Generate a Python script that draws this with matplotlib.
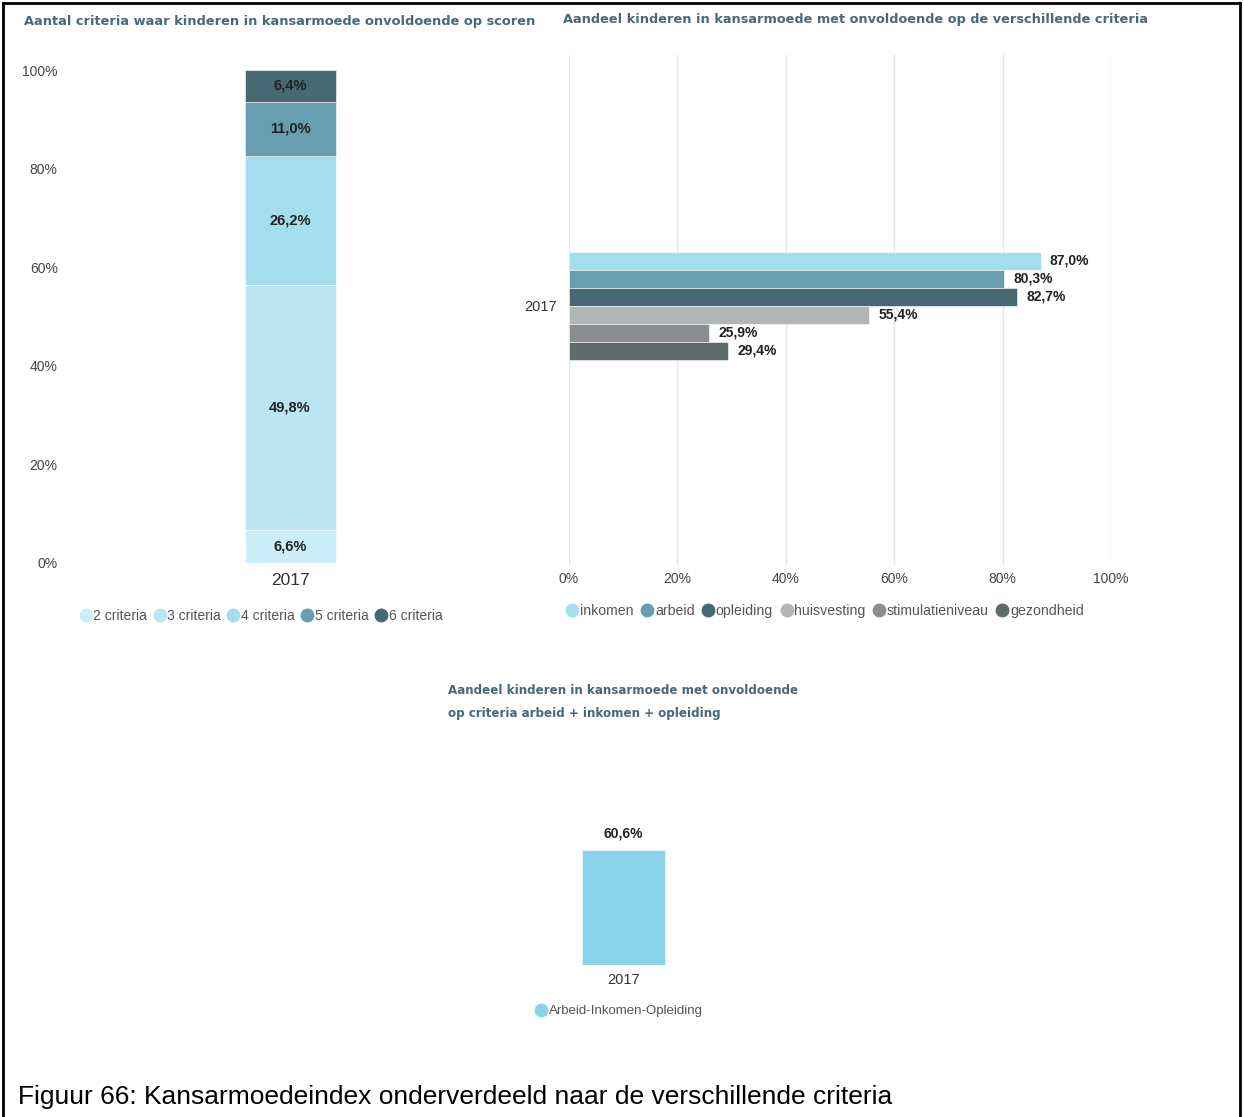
import matplotlib.pyplot as plt
from matplotlib.lines import Line2D

plt.rcParams['font.family'] = ['Liberation Sans', 'DejaVu Sans']

# --- data ---
years = ['2017']
crit_labels = ['2 criteria', '3 criteria', '4 criteria', '5 criteria', '6 criteria']
crit_values = [6.6, 49.8, 26.2, 11.0, 6.4]
crit_colors = ['#CBEEF8', '#BBE5F2', '#A4DDEE', '#679FB0', '#466974']

domains = ['inkomen', 'arbeid', 'opleiding', 'huisvesting', 'stimulatieniveau', 'gezondheid']
domain_values = [87.0, 80.3, 82.7, 55.4, 25.9, 29.4]
domain_colors = ['#A4DDEE', '#679FB0', '#466974', '#B1B5B6', '#898F90', '#606B6B']

combo_label = 'Arbeid-Inkomen-Opleiding'
combo_value = [60.6]
combo_color = '#8AD4EA'

pct_ticks = [0, 20, 40, 60, 80, 100]
title_color = '#47697A'
label_color = '#222222'
tick_color = '#444444'

W, H = 1244, 1117
fig = plt.figure(figsize=(W / 100, H / 100), dpi=100)


def ax_px(x0, y0, x1, y1):
    return fig.add_axes([x0 / W, 1 - y1 / H, (x1 - x0) / W, (y1 - y0) / H])


def fmt(v):
    return f'{v:.1f}%'.replace('.', ',')


# --- left: stacked column ---
ax1 = ax_px(62.5, 70, 517.5, 563)
bottom = 0
for lab, v, c in zip(crit_labels, crit_values, crit_colors):
    ax1.bar(0, v, bottom=bottom, width=1.0, color=c, edgecolor='white', linewidth=0.4)
    ax1.text(0, bottom + v / 2, fmt(v), ha='center', va='center', fontsize=10.5,
             fontweight='bold', color=label_color)
    bottom += v
ax1.set_xlim(-2.5, 2.5)
ax1.set_ylim(0, 100)
ax1.set_yticks(pct_ticks)
ax1.set_yticklabels([f'{t}%' for t in pct_ticks], fontsize=10, color=tick_color)
ax1.set_xticks([0])
ax1.set_xticklabels(years, fontsize=12.5, color='#333333')
ax1.tick_params(length=0)
ax1.tick_params(axis='y', pad=3.5)
ax1.tick_params(axis='x', pad=7)
for s in ax1.spines.values():
    s.set_visible(False)

# --- right: horizontal bars ---
ax2 = ax_px(569, 55, 1111, 565)
ypos = [2.5, 1.5, 0.5, -0.5, -1.5, -2.5]
for y, v, c in zip(ypos, domain_values, domain_colors):
    ax2.barh(y, v, height=1.0, color=c, edgecolor='white', linewidth=0.4, zorder=2)
    ax2.text(v + 1.7, y, fmt(v), ha='left', va='center', fontsize=10,
             fontweight='bold', color=label_color)
ax2.set_xlim(0, 100)
ax2.set_ylim(-14.39, 13.94)
ax2.set_xticks(pct_ticks)
ax2.set_xticklabels([f'{t}%' for t in pct_ticks], fontsize=10, color=tick_color)
ax2.set_yticks([0])
ax2.set_yticklabels(years, fontsize=10.5, color='#333333')
ax2.tick_params(length=0)
ax2.tick_params(axis='x', pad=5)
ax2.tick_params(axis='y', pad=9)
ax2.grid(axis='x', color='#E6E6E6', linewidth=1, zorder=0)
ax2.set_axisbelow(True)
for s in ax2.spines.values():
    s.set_visible(False)

# --- bottom: single column ---
ax3 = ax_px(523.5, 775, 723.5, 965)
ax3.bar(0, combo_value[0], width=1.0, color=combo_color, edgecolor='white', linewidth=0.4)
ax3.annotate(fmt(combo_value[0]), (0, combo_value[0]), xytext=(0, 7), textcoords='offset points',
             ha='center', va='bottom', fontsize=10, fontweight='bold', color=label_color)
ax3.set_xlim(-1.2, 1.2)
ax3.set_ylim(0, 100)
ax3.set_yticks([])
ax3.set_xticks([0])
ax3.set_xticklabels(years, fontsize=10.5, color='#333333')
ax3.tick_params(length=0, pad=6)
for s in ax3.spines.values():
    s.set_visible(False)

# --- titles ---
fig.text(24 / W, 1 - 21 / H, 'Aantal criteria waar kinderen in kansarmoede onvoldoende op scoren',
         fontsize=9.35, fontweight='bold', color=title_color, family='DejaVu Sans', va='center')
fig.text(563 / W, 1 - 20 / H, 'Aandeel kinderen in kansarmoede met onvoldoende op de verschillende criteria',
         fontsize=9.3, fontweight='bold', color=title_color, family='DejaVu Sans', va='center')
fig.text(448 / W, 1 - 691 / H, 'Aandeel kinderen in kansarmoede met onvoldoende',
         fontsize=8.6, fontweight='bold', color=title_color, family='DejaVu Sans', va='center')
fig.text(448 / W, 1 - 713 / H, 'op criteria arbeid + inkomen + opleiding',
         fontsize=8.6, fontweight='bold', color=title_color, family='DejaVu Sans', va='center')


# --- legends ---
def legend(labels, colors, cx, cy, spacing, size):
    handles = [Line2D([], [], marker='o', ls='', color=c, markersize=9) for c in colors]
    lg = fig.legend(handles, labels, loc='center', bbox_to_anchor=(cx / W, 1 - cy / H),
                    ncol=len(labels), frameon=False, handletextpad=0.1, columnspacing=spacing,
                    handlelength=0.9, fontsize=size, borderpad=0)
    for t in lg.get_texts():
        t.set_color('#555555')


legend(crit_labels, crit_colors, 261, 616, 0.45, 10)
legend(domains, domain_colors, 825, 611, 0.5, 10.2)
legend([combo_label], [combo_color], 619, 1011, 0.5, 9.5)

# --- caption and frame ---
fig.text(18 / W, 1 - 1097 / H, 'Figuur 66: Kansarmoedeindex onderverdeeld naar de verschillende criteria',
         fontsize=19, color='black', va='center')
fig.add_artist(Line2D([3 / W, 3 / W], [0, 1 - 3 / H], color='black', lw=2))
fig.add_artist(Line2D([3 / W, 1240 / W], [1 - 3 / H, 1 - 3 / H], color='black', lw=2))
fig.add_artist(Line2D([1240 / W, 1240 / W], [0, 1 - 3 / H], color='black', lw=2))

fig.savefig('out.png', dpi=100, facecolor='white')
